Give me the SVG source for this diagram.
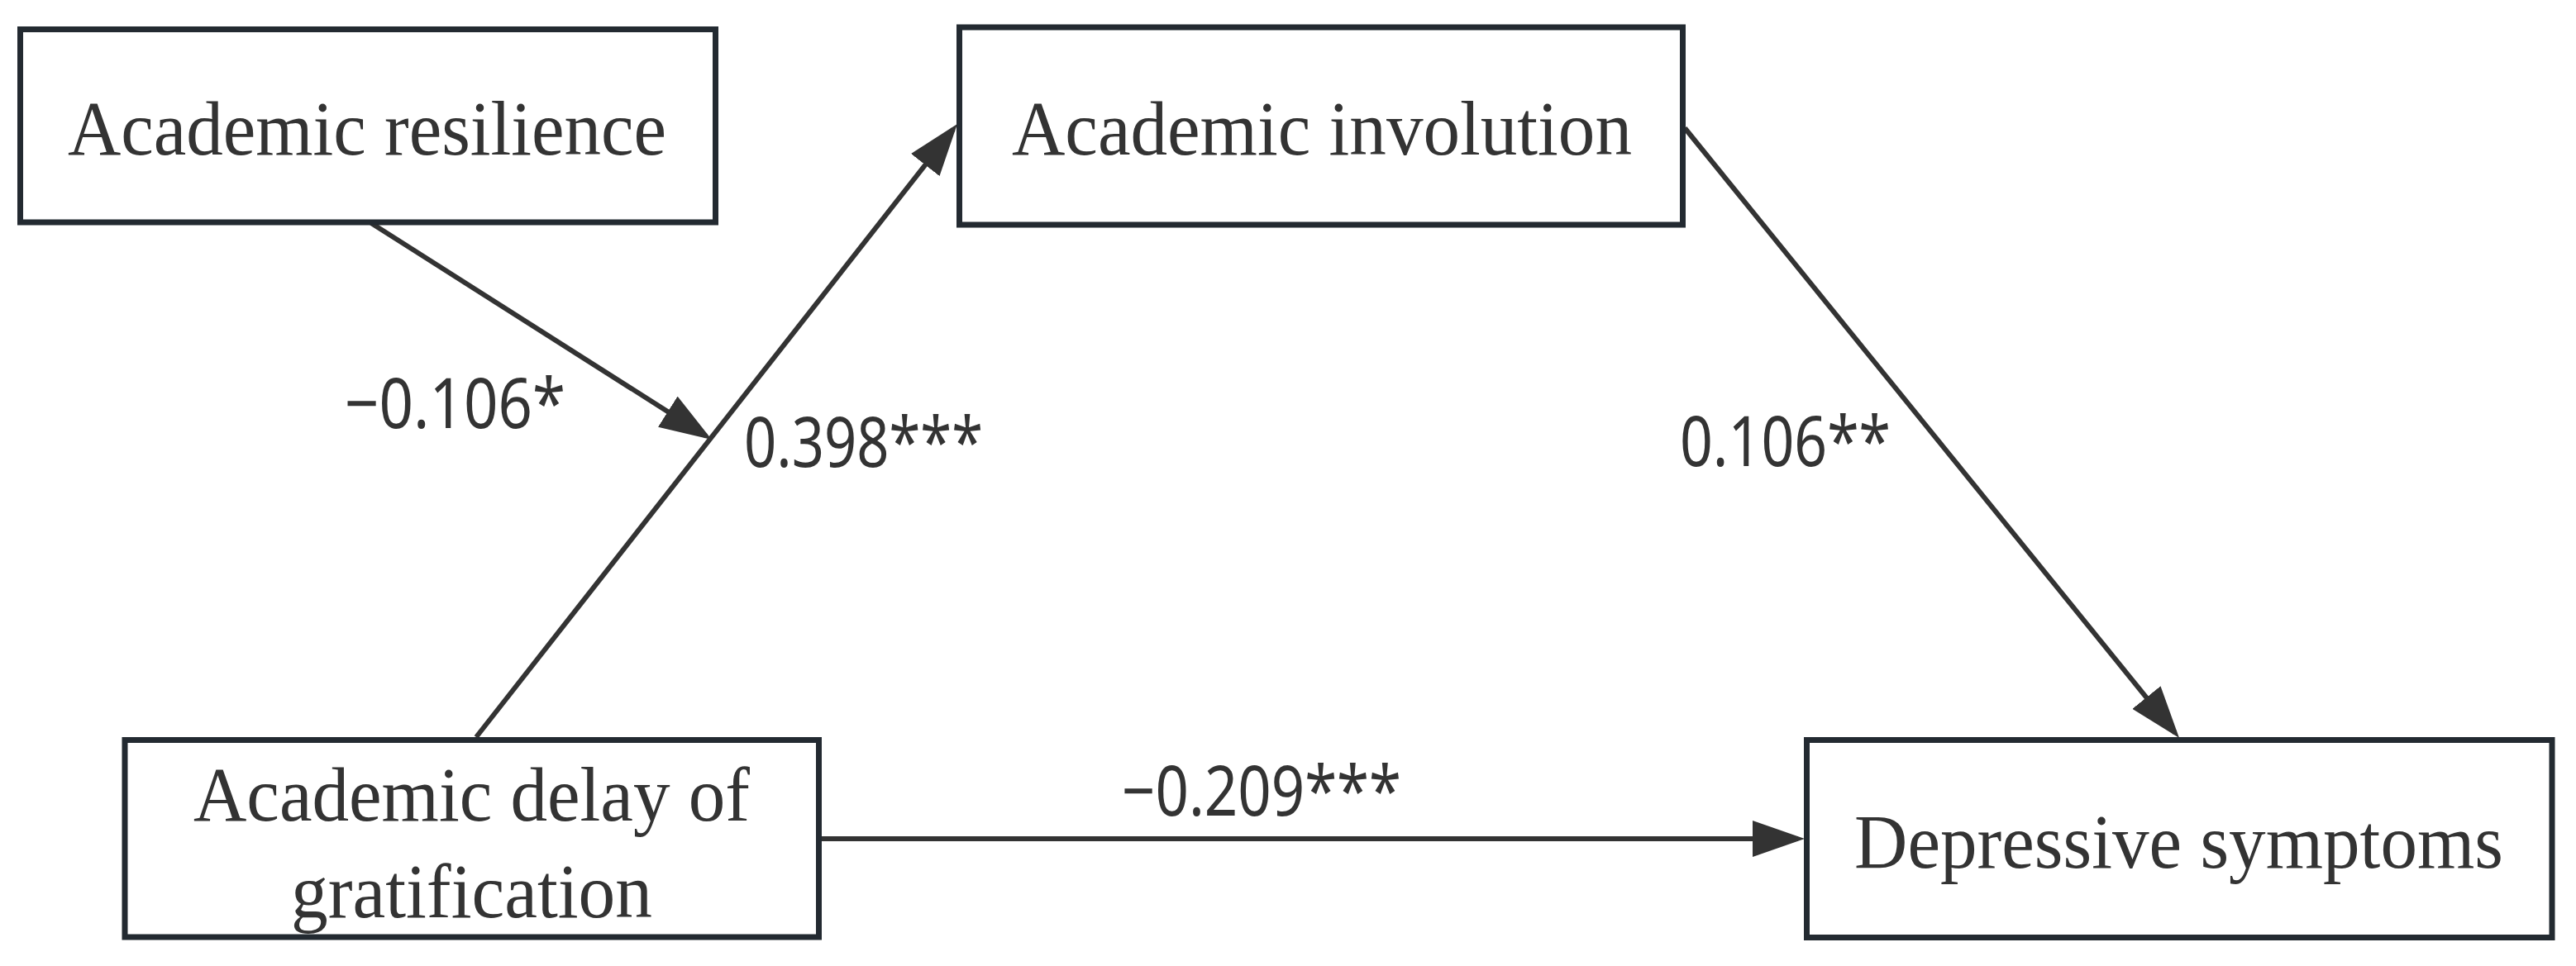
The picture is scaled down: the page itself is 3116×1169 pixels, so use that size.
<svg xmlns="http://www.w3.org/2000/svg" width="3116" height="1169" viewBox="0 0 3116 1169">
<style>
.box{fill:#ffffff;stroke:#232a31;stroke-width:7}
.nt{font-family:"Liberation Serif","Times New Roman",serif;font-size:94px;fill:#333333;text-anchor:middle}
.lbl{font-family:"Noto Sans","Open Sans",sans-serif;font-size:84px;fill:#333333}
.edge{stroke:#333333;stroke-width:6;fill:none}
</style>
<defs>
<marker id="ah" markerUnits="userSpaceOnUse" markerWidth="64" markerHeight="44" refX="55" refY="22" orient="auto" viewBox="0 0 64 44">
<path d="M0,0 L63,22 L0,44 z" fill="#333333"/>
</marker>
</defs>
<rect width="3116" height="1169" fill="#ffffff"/>
<g id="connectors">
<line class="edge" x1="449" y1="270" x2="854.2" y2="527.7" marker-end="url(#ah)"/>
<line class="edge" x1="576" y1="892" x2="1153.1" y2="156.3" marker-end="url(#ah)"/>
<line class="edge" x1="2038" y1="155" x2="2631" y2="886.8" marker-end="url(#ah)"/>
<line class="edge" x1="990.5" y1="1015" x2="2175" y2="1015" marker-end="url(#ah)"/>
<text class="lbl" x="417" y="518" textLength="267" lengthAdjust="spacingAndGlyphs">−0.106*</text>
<text class="lbl" x="900" y="565" textLength="289" lengthAdjust="spacingAndGlyphs">0.398***</text>
<text class="lbl" x="2032" y="564" textLength="255" lengthAdjust="spacingAndGlyphs">0.106**</text>
<text class="lbl" x="1357" y="987" textLength="338" lengthAdjust="spacingAndGlyphs">−0.209***</text>
</g>
<g id="node-resilience">
<rect class="box" x="24.5" y="35.5" width="841" height="233.5"/>
<text class="nt" x="444" y="187" textLength="724" lengthAdjust="spacingAndGlyphs">Academic resilience</text>
</g>
<g id="node-involution">
<rect class="box" x="1160.5" y="33" width="875" height="239"/>
<text class="nt" x="1599" y="187" textLength="750" lengthAdjust="spacingAndGlyphs">Academic involution</text>
</g>
<g id="node-delay">
<rect class="box" x="151" y="895.5" width="839.5" height="238.5"/>
<text class="nt" x="570.5" y="993" textLength="673" lengthAdjust="spacingAndGlyphs">Academic delay of</text>
<text class="nt" x="570.5" y="1110" textLength="437" lengthAdjust="spacingAndGlyphs">gratification</text>
</g>
<g id="node-depressive">
<rect class="box" x="2185.5" y="895.5" width="901.5" height="239"/>
<text class="nt" x="2635.5" y="1050" textLength="785" lengthAdjust="spacingAndGlyphs">Depressive symptoms</text>
</g>
</svg>
